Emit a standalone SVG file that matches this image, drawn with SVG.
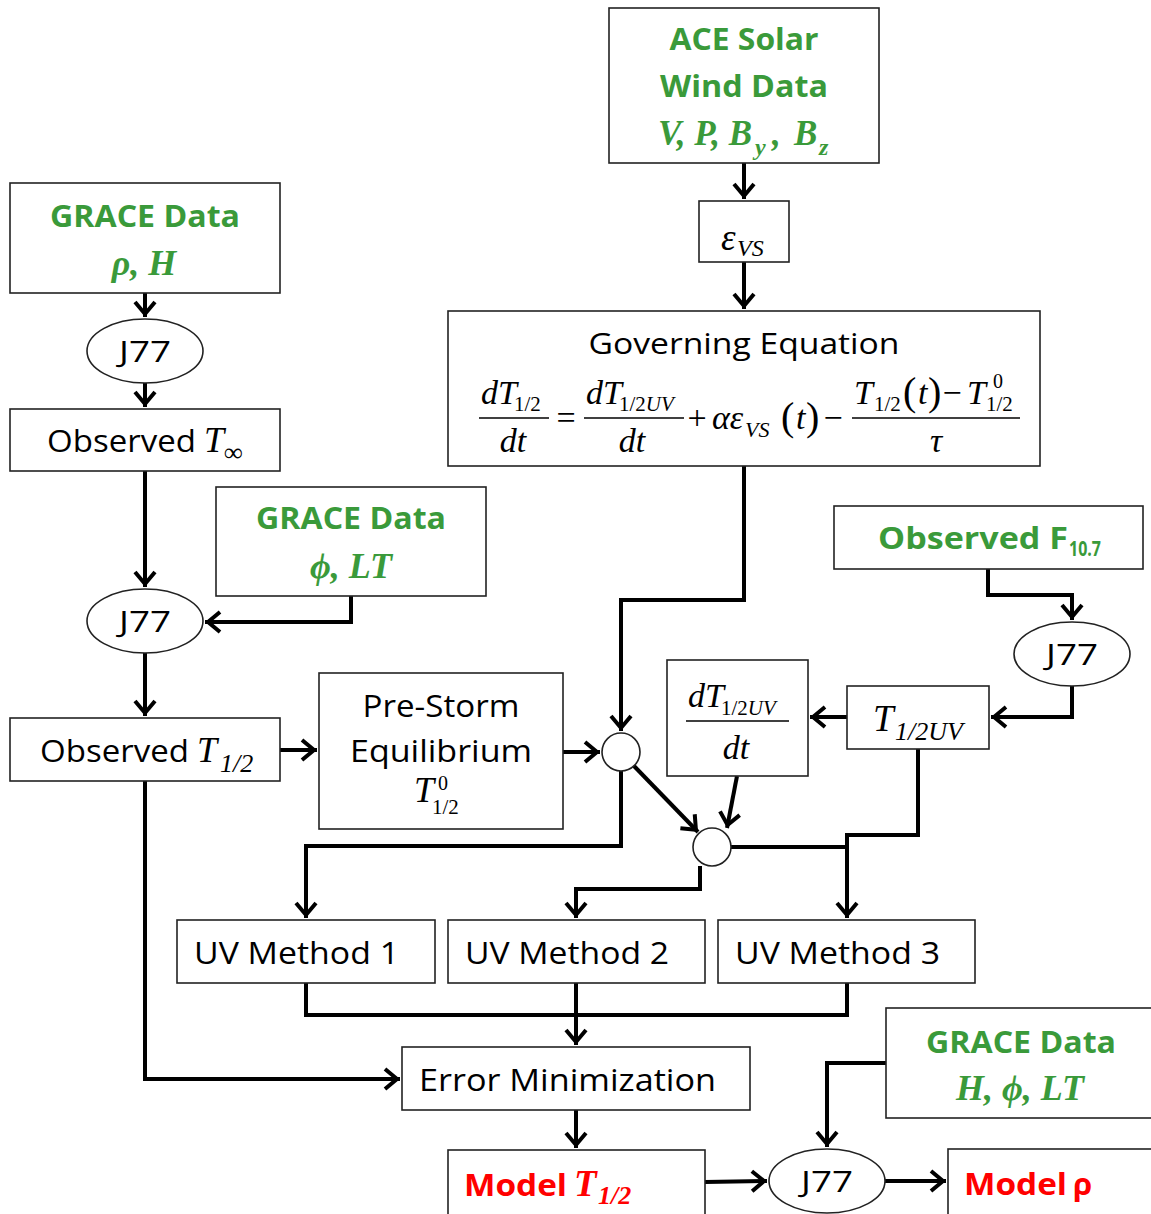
<svg xmlns="http://www.w3.org/2000/svg" width="1151" height="1214" viewBox="0 0 1151 1214">
<defs>
<style>
.box{fill:#fff;stroke:#222;stroke-width:1.6}
.sans{font-family:"Open Sans","Liberation Sans",sans-serif;fill:#000}
.g{fill:#3a9a3a;font-weight:bold}
.r{fill:#ff0000;font-weight:bold}
.m{font-family:"Liberation Serif","DejaVu Serif",serif;font-style:italic;fill:#000}
.u{font-family:"Liberation Serif","DejaVu Serif",serif;fill:#000}
.gm{font-family:"Liberation Serif","DejaVu Serif",serif;font-style:italic;font-weight:bold;fill:#3a9a3a}
.rm{font-family:"Liberation Serif","DejaVu Serif",serif;font-style:italic;font-weight:bold;fill:#ff0000}
.c{fill:none;stroke:#000;stroke-width:4}
.ca{fill:none;stroke:#000;stroke-width:4;marker-end:url(#ah)}
.fl{stroke:#000;stroke-width:1.5}
</style>
<marker id="ah" markerUnits="userSpaceOnUse" markerWidth="34" markerHeight="34" viewBox="-17 -17 34 34" refX="0" refY="0" orient="auto" overflow="visible">
<path d="M-15,-10 L-3,0 L-15,10" fill="none" stroke="#000" stroke-width="4"/>
</marker>
</defs>

<g id="connectors">
<path class="ca" d="M744,163 V199"/>
<path class="ca" d="M744,262 V309"/>
<path class="ca" d="M145,293 V317"/>
<path class="ca" d="M145,383 V407"/>
<path class="ca" d="M145,471 V587"/>
<path class="ca" d="M351,596 V622 H205"/>
<path class="ca" d="M145,653 V716"/>
<path class="ca" d="M280,750 H317"/>
<path class="ca" d="M563,752 H600"/>
<path class="ca" d="M744,466 V600 H621 V731"/>
<path class="ca" d="M621,771 V846 H306 V918"/>
<path class="ca" d="M634,766 L698,832"/>
<path class="ca" d="M737,776 L727,828"/>
<path class="ca" d="M847,717 H810"/>
<path class="ca" d="M988,569 V595 H1072 V620"/>
<path class="ca" d="M1072,686 V717 H991"/>
<path class="ca" d="M918,749 V835 H847 V918"/>
<path class="c" d="M731,847 H847"/>
<path class="ca" d="M700,866 V889 H576 V918"/>
<path class="c" d="M306,983 V1015 H847 V983"/>
<path class="ca" d="M576,983 V1045"/>
<path class="ca" d="M145,781 V1079 H400"/>
<path class="ca" d="M576,1110 V1148"/>
<path class="ca" d="M705,1182 L767,1181"/>
<path class="ca" d="M885,1181 H946"/>
<path class="ca" d="M886,1063 H827 V1147"/>
</g>

<g id="ace">
<rect class="box" x="609" y="8" width="270" height="155"/>
<text class="sans g" x="744" y="50" font-size="31" text-anchor="middle" textLength="149" lengthAdjust="spacingAndGlyphs">ACE Solar</text>
<text class="sans g" x="744" y="97" font-size="31" text-anchor="middle" textLength="168" lengthAdjust="spacingAndGlyphs">Wind Data</text>
<text class="gm" x="658" y="145" font-size="35">V, P, B</text>
<text class="gm" x="755" y="155" font-size="24">y</text>
<text class="gm" x="772" y="145" font-size="35">,</text>
<text class="gm" x="794" y="145" font-size="35">B</text>
<text class="gm" x="819" y="155" font-size="24">z</text>
</g>

<g id="evs">
<rect class="box" x="699" y="201" width="90" height="61"/>
<text class="m" x="721" y="250" font-size="37">ε</text>
<text class="m" x="737" y="256" font-size="24">VS</text>
</g>

<g id="governing">
<rect class="box" x="448" y="311" width="592" height="155"/>
<text class="sans" x="744" y="354" font-size="30" text-anchor="middle" textLength="311" lengthAdjust="spacingAndGlyphs">Governing Equation</text>
<text class="m" x="481" y="404" font-size="34">dT</text>
<text class="u" x="514" y="411" font-size="21">1/2</text>
<line class="fl" x1="479" y1="418" x2="549" y2="418"/>
<text class="m" x="513" y="452" font-size="34" text-anchor="middle">dt</text>
<text class="u" x="566" y="429" font-size="34" text-anchor="middle">=</text>
<text class="m" x="586" y="404" font-size="34">dT</text>
<text class="u" x="619" y="411" font-size="21">1/2<tspan font-style="italic">UV</tspan></text>
<line class="fl" x1="584" y1="418" x2="684" y2="418"/>
<text class="m" x="632" y="452" font-size="34" text-anchor="middle">dt</text>
<text class="u" x="697" y="429" font-size="34" text-anchor="middle">+</text>
<text class="m" x="712" y="429" font-size="34">αε</text>
<text class="m" x="745" y="437" font-size="22">VS</text>
<text class="u" x="781" y="430" font-size="40">(</text>
<text class="m" x="796" y="429" font-size="34">t</text>
<text class="u" x="806" y="430" font-size="40">)</text>
<text class="u" x="833" y="429" font-size="34" text-anchor="middle">−</text>
<text class="m" x="854" y="404" font-size="34">T</text>
<text class="u" x="874" y="411" font-size="21">1/2</text>
<text class="u" x="903" y="405" font-size="40">(</text>
<text class="m" x="918" y="404" font-size="34">t</text>
<text class="u" x="928" y="405" font-size="40">)</text>
<text class="u" x="952" y="404" font-size="34" text-anchor="middle">−</text>
<text class="m" x="967" y="404" font-size="34">T</text>
<text class="u" x="993" y="388" font-size="20">0</text>
<text class="u" x="986" y="411" font-size="21">1/2</text>
<line class="fl" x1="852" y1="418" x2="1020" y2="418"/>
<text class="m" x="936" y="452" font-size="34" text-anchor="middle">τ</text>
</g>

<g id="grace1">
<rect class="box" x="10" y="183" width="270" height="110"/>
<text class="sans g" x="145" y="227" font-size="31" text-anchor="middle" textLength="190" lengthAdjust="spacingAndGlyphs">GRACE Data</text>
<text class="gm" x="144" y="275" font-size="36" text-anchor="middle">ρ, H</text>
</g>

<g id="j77a">
<ellipse class="box" cx="145" cy="351" rx="58" ry="32"/>
<text class="sans" x="145" y="362" font-size="30" text-anchor="middle" textLength="52" lengthAdjust="spacingAndGlyphs">J77</text>
</g>

<g id="obsTinf">
<rect class="box" x="10" y="409" width="270" height="62"/>
<text class="sans" x="47" y="452" font-size="31" textLength="149" lengthAdjust="spacingAndGlyphs">Observed</text>
<text class="m" x="204" y="452" font-size="36">T</text>
<text class="m" x="224" y="461" font-size="26">∞</text>
</g>

<g id="grace2">
<rect class="box" x="216" y="487" width="270" height="109"/>
<text class="sans g" x="351" y="529" font-size="31" text-anchor="middle" textLength="190" lengthAdjust="spacingAndGlyphs">GRACE Data</text>
<text class="gm" x="351" y="578" font-size="36" text-anchor="middle">ϕ, LT</text>
</g>

<g id="j77b">
<ellipse class="box" cx="145" cy="621" rx="58" ry="32"/>
<text class="sans" x="145" y="632" font-size="30" text-anchor="middle" textLength="52" lengthAdjust="spacingAndGlyphs">J77</text>
</g>

<g id="obsThalf">
<rect class="box" x="10" y="718" width="270" height="63"/>
<text class="sans" x="40" y="762" font-size="31" textLength="149" lengthAdjust="spacingAndGlyphs">Observed</text>
<text class="m" x="197" y="762" font-size="36">T</text>
<text class="m" x="220" y="772" font-size="26">1/2</text>
</g>

<g id="prestorm">
<rect class="box" x="319" y="673" width="244" height="156"/>
<text class="sans" x="441" y="717" font-size="31" text-anchor="middle" textLength="157" lengthAdjust="spacingAndGlyphs">Pre-Storm</text>
<text class="sans" x="441" y="762" font-size="31" text-anchor="middle" textLength="182" lengthAdjust="spacingAndGlyphs">Equilibrium</text>
<text class="m" x="414" y="802" font-size="36">T</text>
<text class="u" x="438" y="790" font-size="20">0</text>
<text class="u" x="432" y="814" font-size="21">1/2</text>
</g>

<g id="sum1">
<circle class="box" cx="621" cy="752" r="19"/>
</g>

<g id="f107">
<rect class="box" x="834" y="506" width="309" height="63"/>
<text class="sans g" x="878" y="549" font-size="31" textLength="190" lengthAdjust="spacingAndGlyphs">Observed F</text>
<text class="sans g" x="1069" y="556" font-size="22" textLength="32" lengthAdjust="spacingAndGlyphs">10.7</text>
</g>

<g id="j77c">
<ellipse class="box" cx="1072" cy="654" rx="58" ry="32"/>
<text class="sans" x="1072" y="665" font-size="30" text-anchor="middle" textLength="52" lengthAdjust="spacingAndGlyphs">J77</text>
</g>

<g id="t12uv">
<rect class="box" x="847" y="686" width="142" height="63"/>
<text class="m" x="873" y="731" font-size="37">T</text>
<text class="m" x="895" y="740" font-size="26">1/2UV</text>
</g>

<g id="dtdt">
<rect class="box" x="667" y="660" width="141" height="116"/>
<text class="m" x="688" y="707" font-size="34">dT</text>
<text class="u" x="721" y="715" font-size="21">1/2<tspan font-style="italic">UV</tspan></text>
<line class="fl" x1="686" y1="721" x2="789" y2="721"/>
<text class="m" x="736" y="759" font-size="34" text-anchor="middle">dt</text>
</g>

<g id="sum2">
<circle class="box" cx="712" cy="847" r="19"/>
</g>

<g id="uv1">
<rect class="box" x="177" y="920" width="258" height="63"/>
<text class="sans" x="194" y="964" font-size="31" textLength="205" lengthAdjust="spacingAndGlyphs">UV Method 1</text>
</g>
<g id="uv2">
<rect class="box" x="448" y="920" width="257" height="63"/>
<text class="sans" x="465" y="964" font-size="31" textLength="204" lengthAdjust="spacingAndGlyphs">UV Method 2</text>
</g>
<g id="uv3">
<rect class="box" x="718" y="920" width="257" height="63"/>
<text class="sans" x="735" y="964" font-size="31" textLength="205" lengthAdjust="spacingAndGlyphs">UV Method 3</text>
</g>

<g id="errmin">
<rect class="box" x="402" y="1047" width="348" height="63"/>
<text class="sans" x="419" y="1091" font-size="31" textLength="297" lengthAdjust="spacingAndGlyphs">Error Minimization</text>
</g>

<g id="grace3">
<rect class="box" x="886" y="1008" width="268" height="110"/>
<text class="sans g" x="1021" y="1053" font-size="31" text-anchor="middle" textLength="190" lengthAdjust="spacingAndGlyphs">GRACE Data</text>
<text class="gm" x="1020" y="1100" font-size="36" text-anchor="middle">H, ϕ, LT</text>
</g>

<g id="modelT">
<rect class="box" x="448" y="1150" width="257" height="66"/>
<text class="sans r" x="464" y="1196" font-size="31" textLength="103" lengthAdjust="spacingAndGlyphs">Model</text>
<text class="rm" x="574" y="1196" font-size="37">T</text>
<text class="rm" x="598" y="1204" font-size="26">1/2</text>
</g>

<g id="j77d">
<ellipse class="box" cx="827" cy="1181" rx="58" ry="32"/>
<text class="sans" x="827" y="1192" font-size="30" text-anchor="middle" textLength="52" lengthAdjust="spacingAndGlyphs">J77</text>
</g>

<g id="modelRho">
<rect class="box" x="948" y="1149" width="206" height="66"/>
<text class="sans r" x="964" y="1195" font-size="31" textLength="103" lengthAdjust="spacingAndGlyphs">Model</text>
<text class="sans r" x="1073" y="1195" font-size="31" font-weight="normal">ρ</text>
</g>
</svg>
